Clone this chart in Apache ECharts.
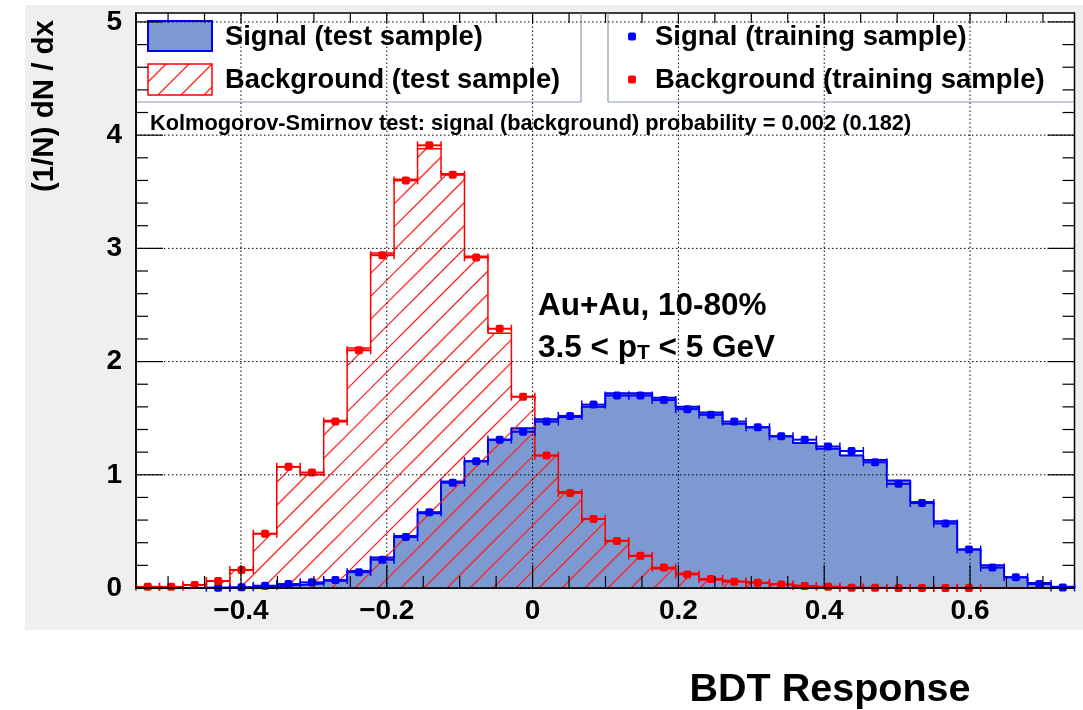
<!DOCTYPE html>
<html><head><meta charset="utf-8">
<script src="https://cdn.jsdelivr.net/npm/echarts@6/dist/echarts.min.js"></script>
<style>html,body{margin:0;padding:0;background:#fff;} #c{width:1083px;height:710px;}</style>
</head><body><div id="c"></div>
<script>
// ---- axis ranges / ticks ----
const X_MIN = -0.544, X_MAX = 0.7433, N_BINS = 40;
const Y_MIN = 0, Y_MAX = 5.079;
const xMajorTicks = [-0.4, -0.2, 0, 0.2, 0.4, 0.6];
const xMinorTicks = [-0.5, -0.45, -0.35, -0.3, -0.25, -0.15, -0.1, -0.05, 0.05, 0.1, 0.15, 0.25, 0.3, 0.35, 0.45, 0.5, 0.55, 0.65, 0.7];
const yMajorTicks = [0, 1, 2, 3, 4, 5];
const yMinorTicks = [0.2,0.4,0.6,0.8,1.2,1.4,1.6,1.8,2.2,2.4,2.6,2.8,3.2,3.4,3.6,3.8,4.2,4.4,4.6,4.8];

// ---- histogram contents (40 bins) ----
const signalTest = [0,0,0,0.003,0.006,0.015,0.027,0.04,0.065,0.15,0.27,0.46,0.66,0.94,1.12,1.31,1.41,1.49,1.51,1.60,1.72,1.72,1.68,1.60,1.55,1.45,1.42,1.34,1.28,1.23,1.17,1.13,0.95,0.76,0.59,0.34,0.20,0.095,0.045,0.01];
const signalTrain = [null,null,null,0.003,0.006,0.02,0.035,0.05,0.07,0.14,0.25,0.45,0.67,0.93,1.12,1.31,1.38,1.47,1.52,1.62,1.70,1.70,1.66,1.58,1.53,1.47,1.42,1.34,1.31,1.25,1.21,1.11,0.92,0.75,0.57,0.34,0.18,0.095,0.035,0.005];
const backgroundTest = [0.005,0.005,0.025,0.06,0.16,0.48,1.07,1.00,1.48,2.12,2.96,3.61,3.88,3.66,2.93,2.25,1.69,1.17,0.85,0.61,0.42,0.28,0.17,0.13,0.07,0.056,0.04,0.026,0.012,0.008,0.005,0.003,0.002,0.001,0.001,0.001,0,0,0,0];
const backgroundTrain = [0.01,0.01,0.027,0.062,0.16,0.48,1.07,1.02,1.47,2.10,2.94,3.60,3.91,3.65,2.92,2.29,1.69,1.17,0.84,0.61,0.415,0.285,0.18,0.12,0.08,0.056,0.047,0.032,0.018,0.012,0.003,0.002,0.001,0.001,0.001,0.001,null,null,null,null];

const legendLabels = ['Signal (test sample)', 'Background (test sample)', 'Signal (training sample)', 'Background (training sample)'];
const ksText = 'Kolmogorov-Smirnov test: signal (background) probability = 0.002 (0.182)';
const xTitle = 'BDT Response';
const yTitle = '(1/N) dN / dx';

const FONT = '"Liberation Sans", Arial, Helvetica, sans-serif';
const HATCH_STEP = 23;
const binW = (X_MAX - X_MIN) / N_BINS;
const edges = Array.from({length: N_BINS + 1}, (_, i) => X_MIN + i * binW);

function stepData(vals) {
  const d = [[edges[0], 0]];
  vals.forEach((v, i) => d.push([edges[i], v]));
  d.push([edges[N_BINS], vals[N_BINS - 1]]);
  d.push([edges[N_BINS], 0]);
  return d;
}
function pointData(vals) {
  const d = [];
  vals.forEach((v, i) => { if (v !== null) d.push([edges[i] + binW / 2, v]); });
  return d;
}
// 45-degree "/" hatch segments inside a pixel rectangle
function hatchLines(x0, x1, yT, yB) {
  const s = HATCH_STEP, out = [];
  const kStart = Math.floor((x0 + yT) / s) - 1, kEnd = Math.ceil((x1 + yB) / s) + 1;
  for (let k = kStart; k <= kEnd; k++) {
    const c = k * s;
    const xa = Math.max(x0, c - yB), xb = Math.min(x1, c - yT);
    if (xb > xa) out.push([xa, c - xa, xb, c - xb]);
  }
  return out;
}
function hatchRender(params, api) {
  const xc = api.value(0), v = api.value(1);
  if (!(v > 0)) return {type: 'group', children: []};
  const pTL = api.coord([xc - binW / 2, v]);
  const pBR = api.coord([xc + binW / 2, 0]);
  const segs = hatchLines(pTL[0], pBR[0], pTL[1], pBR[1]);
  let d = '';
  segs.forEach(s => { d += 'M' + s[0] + ' ' + s[1] + 'L' + s[2] + ' ' + s[3]; });
  return {type: 'path', shape: {pathData: d}, style: {fill: 'none', stroke: '#ff2020', lineWidth: 1.3, opacity: 1}};
}
function trainRender(color) {
  return function (params, api) {
    const xc = api.value(0), v = api.value(1);
    const pL = api.coord([xc - binW / 2, v]);
    const pR = api.coord([xc + binW / 2, v]);
    const pC = api.coord([xc, v]);
    return {type: 'group', children: [
      {type: 'line', shape: {x1: pL[0], y1: pL[1], x2: pR[0], y2: pR[1]}, style: {stroke: color, lineWidth: 2}},
      {type: 'line', shape: {x1: pL[0], y1: pL[1] - 4, x2: pL[0], y2: pL[1] + 4}, style: {stroke: color, lineWidth: 1.5}},
      {type: 'line', shape: {x1: pR[0], y1: pR[1] - 4, x2: pR[0], y2: pR[1] + 4}, style: {stroke: color, lineWidth: 1.5}},
      {type: 'rect', shape: {x: pC[0] - 4, y: pC[1] - 4, width: 8, height: 8, r: 2}, style: {fill: color}}
    ]};
  };
}
function xTickRender(lenB, lenT, grid) {
  return function (params, api) {
    const v = api.value(0);
    const b = api.coord([v, Y_MIN]), t = api.coord([v, Y_MAX]);
    const ch = [
      {type: 'line', shape: {x1: b[0], y1: b[1], x2: b[0], y2: b[1] - lenB}, style: {stroke: '#000', lineWidth: 1.2}},
      {type: 'line', shape: {x1: t[0], y1: t[1], x2: t[0], y2: t[1] + lenT}, style: {stroke: '#000', lineWidth: 1.2}}
    ];
    if (grid) ch.push({type: 'line', shape: {x1: b[0], y1: b[1], x2: t[0], y2: t[1]}, style: {stroke: '#000', lineWidth: 1, lineDash: [1.5, 2.5]}});
    return {type: 'group', children: ch};
  };
}
function yTickRender(len, grid) {
  return function (params, api) {
    const v = api.value(1);
    const l = api.coord([X_MIN, v]), r = api.coord([X_MAX, v]);
    const ch = [
      {type: 'line', shape: {x1: l[0], y1: l[1], x2: l[0] + len, y2: l[1]}, style: {stroke: '#000', lineWidth: 1.2}},
      {type: 'line', shape: {x1: r[0], y1: r[1], x2: r[0] - len, y2: r[1]}, style: {stroke: '#000', lineWidth: 1.2}}
    ];
    if (grid) ch.push({type: 'line', shape: {x1: l[0], y1: l[1], x2: r[0], y2: r[1]}, style: {stroke: '#000', lineWidth: 1, lineDash: [1.5, 2.5]}});
    return {type: 'group', children: ch};
  };
}
function fmtX(v) {
  if (Math.abs(v) < 1e-9) return '0';
  return (v < 0 ? '\u2212' : '') + Math.abs(v).toFixed(1);
}

const chart = echarts.init(document.getElementById('c'), null, {renderer: 'canvas', width: 1083, height: 710});
const legBorder = '#8e9bb8';
const legendHatch = hatchLines(148, 212, 64, 95).map(s => ({
  type: 'line', silent: true, z: 4, shape: {x1: s[0], y1: s[1], x2: s[2], y2: s[3]}, style: {stroke: '#ff2020', lineWidth: 1.3}
}));
const option = {
  animation: false,
  backgroundColor: '#ffffff',
  textStyle: {fontFamily: FONT},
  grid: {left: 136, top: 13, right: 8.5, bottom: 122, show: true, backgroundColor: '#ffffff', borderColor: '#000', borderWidth: 1.5},
  xAxis: {
    type: 'value', min: X_MIN, max: X_MAX, z: 11,
    axisLine: {show: true, onZero: false, lineStyle: {color: '#000', width: 1.5}},
    axisTick: {show: false}, splitLine: {show: false},
    axisLabel: {customValues: xMajorTicks, formatter: fmtX, color: '#000', fontWeight: 'bold', fontSize: 28, fontFamily: FONT, margin: 9}
  },
  yAxis: {
    type: 'value', min: Y_MIN, max: Y_MAX, z: 11,
    axisLine: {show: true, onZero: false, lineStyle: {color: '#000', width: 1.5}},
    axisTick: {show: false}, splitLine: {show: false},
    axisLabel: {customValues: yMajorTicks, color: '#000', fontWeight: 'bold', fontSize: 28, fontFamily: FONT, margin: 14}
  },
  series: [
    {type: 'line', name: legendLabels[0], data: stepData(signalTest), step: 'end', symbol: 'none', silent: true, z: 2,
     lineStyle: {color: '#0000ee', width: 2}, areaStyle: {color: '#7d99d1', opacity: 1}},
    {type: 'custom', name: 'hatch', data: pointData(backgroundTest), renderItem: hatchRender, z: 3, silent: true, encode: {x: 0, y: 1}},
    {type: 'line', name: legendLabels[1], data: stepData(backgroundTest), step: 'end', symbol: 'none', silent: true, z: 4,
     lineStyle: {color: '#ff0000', width: 1.5}},
    {type: 'custom', name: legendLabels[2], data: pointData(signalTrain), renderItem: trainRender('#0000ff'), z: 5, silent: true, encode: {x: 0, y: 1}},
    {type: 'custom', name: legendLabels[3], data: pointData(backgroundTrain), renderItem: trainRender('#ff0000'), z: 6, silent: true, encode: {x: 0, y: 1}},
    {type: 'custom', data: xMajorTicks.map(v => [v, 0]), renderItem: xTickRender(23, 10, true), z: 10, silent: true, encode: {x: 0, y: 1}},
    {type: 'custom', data: xMinorTicks.map(v => [v, 0]), renderItem: xTickRender(12, 10, false), z: 10, silent: true, encode: {x: 0, y: 1}},
    {type: 'custom', data: yMajorTicks.map(v => [X_MIN, v]), renderItem: yTickRender(27, true), z: 10, silent: true, encode: {x: 0, y: 1}},
    {type: 'custom', data: yMinorTicks.map(v => [X_MIN, v]), renderItem: yTickRender(12, false), z: 10, silent: true, encode: {x: 0, y: 1}}
  ],
  graphic: [
    {type: 'rect', silent: true, z: -10, shape: {x: 25, y: 5, width: 1058, height: 625}, style: {fill: '#efefef'}},
    {type: 'line', silent: true, z: 4, shape: {x1: 136, y1: 102, x2: 581, y2: 102}, style: {stroke: legBorder, lineWidth: 1.2}},
    {type: 'line', silent: true, z: 4, shape: {x1: 581, y1: 13, x2: 581, y2: 102}, style: {stroke: legBorder, lineWidth: 1.2}},
    {type: 'line', silent: true, z: 4, shape: {x1: 608, y1: 102, x2: 1074, y2: 102}, style: {stroke: legBorder, lineWidth: 1.2}},
    {type: 'line', silent: true, z: 4, shape: {x1: 608, y1: 13, x2: 608, y2: 102}, style: {stroke: legBorder, lineWidth: 1.2}},
    {type: 'rect', silent: true, z: 4, shape: {x: 148, y: 21, width: 64, height: 30}, style: {fill: '#7d99d1', stroke: '#0000ee', lineWidth: 2}},
    ...legendHatch,
    {type: 'rect', silent: true, z: 4, shape: {x: 148, y: 64, width: 64, height: 31}, style: {fill: 'none', stroke: '#ff0000', lineWidth: 1.5}},
    {type: 'text', silent: true, z: 4, x: 225, y: 37, style: {text: legendLabels[0], font: 'bold 27.3px ' + FONT, fill: '#000', textVerticalAlign: 'middle'}},
    {type: 'text', silent: true, z: 4, x: 225, y: 80, style: {text: legendLabels[1], font: 'bold 27.3px ' + FONT, fill: '#000', textVerticalAlign: 'middle'}},
    {type: 'rect', silent: true, z: 4, shape: {x: 628, y: 32.5, width: 8, height: 8, r: 2}, style: {fill: '#0000ff'}},
    {type: 'rect', silent: true, z: 4, shape: {x: 628, y: 75.5, width: 8, height: 8, r: 2}, style: {fill: '#ff0000'}},
    {type: 'text', silent: true, z: 4, x: 655, y: 37, style: {text: legendLabels[2], font: 'bold 27.5px ' + FONT, fill: '#000', textVerticalAlign: 'middle'}},
    {type: 'text', silent: true, z: 4, x: 655, y: 80, style: {text: legendLabels[3], font: 'bold 27.5px ' + FONT, fill: '#000', textVerticalAlign: 'middle'}},
    {type: 'text', silent: true, z: 4, x: 150, y: 124, style: {text: ksText, font: 'bold 21.8px ' + FONT, fill: '#000', textVerticalAlign: 'middle'}},
    {type: 'text', silent: true, z: 4, x: 538, y: 306, style: {text: 'Au+Au, 10-80%', font: 'bold 31.5px ' + FONT, fill: '#000', textVerticalAlign: 'middle'}},
    {type: 'text', silent: true, z: 4, x: 538, y: 346, style: {
      text: '{a|3.5 < p}{s|T}{a| < 5 GeV}', fill: '#000', textVerticalAlign: 'middle',
      rich: {a: {font: 'bold 31.5px ' + FONT, fill: '#000', verticalAlign: 'bottom', lineHeight: 36},
             s: {font: 'bold 21px ' + FONT, fill: '#000', verticalAlign: 'bottom', lineHeight: 26}}}},
    {type: 'text', silent: true, z: 4, x: 45, y: 20, rotation: Math.PI / 2, style: {text: yTitle, font: 'bold 29.5px ' + FONT, fill: '#000', textAlign: 'right', textVerticalAlign: 'middle'}},
    {type: 'text', silent: true, z: 4, x: 830, y: 690, style: {text: xTitle, font: 'bold 39.5px ' + FONT, fill: '#000', textAlign: 'center', textVerticalAlign: 'middle'}}
  ]
};
chart.setOption(option);
</script>
</body></html>
